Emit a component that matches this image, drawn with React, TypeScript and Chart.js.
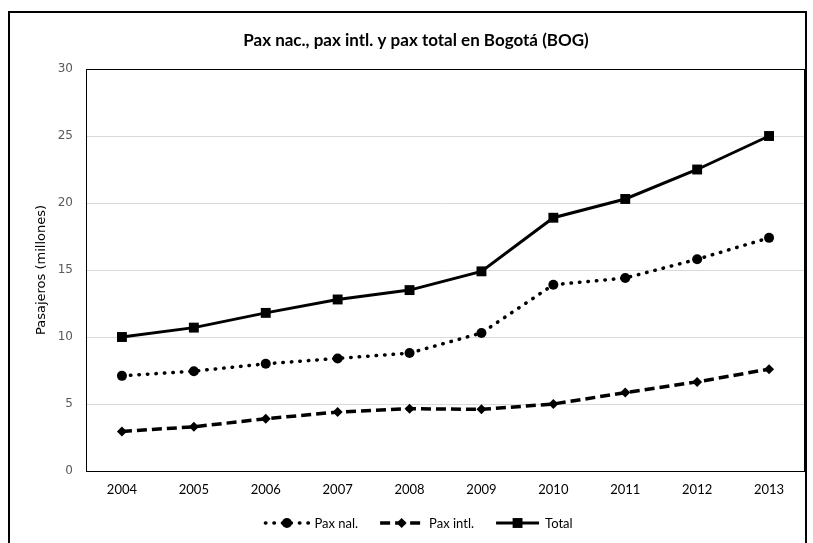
import React, { useEffect, useRef } from "react";
import { Chart, registerables } from "chart.js";

Chart.register(...registerables);

const TITLE = "Pax nac., pax intl. y pax total en Bogotá (BOG)";
const Y_TITLE = "Pasajeros (millones)";
const YEARS = ["2004", "2005", "2006", "2007", "2008", "2009", "2010", "2011", "2012", "2013"];
const PAX_NAL = [7.1, 7.45, 8.0, 8.4, 8.8, 10.3, 13.9, 14.4, 15.8, 17.4];
const PAX_INTL = [2.95, 3.3, 3.9, 4.4, 4.65, 4.6, 5.0, 5.85, 6.65, 7.6];
const TOTAL = [10.0, 10.7, 11.8, 12.8, 13.5, 14.9, 18.9, 20.3, 22.5, 25.0];
const SERIES_LABELS = ["Pax nal.", "Pax intl.", "Total"];
const Y_MIN = 0;
const Y_MAX = 30;
const Y_STEP = 5;

const NARROW = 'Lato, "DejaVu Sans Condensed", sans-serif';
const WIDE = '"DejaVu Sans", Verdana, sans-serif';

function drawMarker(ctx: CanvasRenderingContext2D, style: string, x: number, y: number, r: number) {
  ctx.beginPath();
  if (style === "circle") {
    ctx.arc(x, y, r, 0, Math.PI * 2);
  } else if (style === "rectRot") {
    ctx.moveTo(x - r, y);
    ctx.lineTo(x, y - r);
    ctx.lineTo(x + r, y);
    ctx.lineTo(x, y + r);
    ctx.closePath();
  } else {
    const s = Math.SQRT1_2 * r;
    ctx.rect(x - s, y - s, 2 * s, 2 * s);
  }
  ctx.fillStyle = "#000";
  ctx.fill();
}

const decorPlugin = {
  id: "decor",
  afterDraw(chart: any) {
    const ctx: CanvasRenderingContext2D = chart.ctx;
    const { left, right, top, bottom } = chart.chartArea;
    ctx.save();
    // plot border
    ctx.strokeStyle = "#000";
    ctx.lineWidth = 1;
    ctx.strokeRect(left + 0.5, top + 0.5, right - left - 1, bottom - top);
    // outer frame
    ctx.lineWidth = 2;
    ctx.beginPath();
    ctx.moveTo(9, 543);
    ctx.lineTo(9, 12);
    ctx.lineTo(806, 12);
    ctx.lineTo(806, 543);
    ctx.stroke();
    // title
    ctx.fillStyle = "#000";
    ctx.font = 'bold 17px ' + NARROW;
    ctx.textAlign = "center";
    ctx.textBaseline = "middle";
    ctx.fillText(TITLE, 416, 41);
    // legend
    ctx.font = '13px ' + NARROW;
    ctx.textAlign = "left";
    const sampleW = 43;
    const gapText = 6;
    const gapItem = 22;
    const ds = chart.data.datasets;
    const widths = ds.map((d: any) => ctx.measureText(d.label).width);
    const total = widths.reduce((a: number, b: number) => a + b, 0) + ds.length * (sampleW + gapText) + (ds.length - 1) * gapItem;
    let x = 419 - total / 2;
    const y = 523;
    ds.forEach((d: any, i: number) => {
      ctx.save();
      ctx.strokeStyle = "#000";
      ctx.lineWidth = d.borderWidth;
      ctx.lineCap = d.borderCapStyle || "butt";
      ctx.setLineDash(d.borderDash || []);
      ctx.beginPath();
      ctx.moveTo(x, y);
      ctx.lineTo(x + sampleW, y);
      ctx.stroke();
      ctx.restore();
      drawMarker(ctx, d.pointStyle, x + sampleW / 2, y, d.pointRadius);
      ctx.fillStyle = "#000";
      ctx.fillText(d.label, x + sampleW + gapText, y + 1);
      x += sampleW + gapText + widths[i] + gapItem;
    });
    ctx.restore();
  },
};

export default function App() {
  const ref = useRef<HTMLCanvasElement>(null);
  useEffect(() => {
    document.body.style.margin = "0";
    document.body.style.overflow = "hidden";
    const chart = new Chart(ref.current!, {
      type: "line",
      data: {
        labels: YEARS,
        datasets: [
          {
            label: SERIES_LABELS[0],
            data: PAX_NAL,
            borderColor: "#000",
            backgroundColor: "#000",
            borderWidth: 3.5,
            borderDash: [0.5, 8],
            borderCapStyle: "round",
            pointStyle: "circle",
            pointRadius: 5,
            pointBackgroundColor: "#000",
            pointBorderColor: "#000",
            pointBorderWidth: 0,
            tension: 0,
          },
          {
            label: SERIES_LABELS[1],
            data: PAX_INTL,
            borderColor: "#000",
            backgroundColor: "#000",
            borderWidth: 3.5,
            borderDash: [10, 5],
            borderCapStyle: "butt",
            pointStyle: "rectRot",
            pointRadius: 5,
            pointBackgroundColor: "#000",
            pointBorderColor: "#000",
            pointBorderWidth: 0,
            tension: 0,
          },
          {
            label: SERIES_LABELS[2],
            data: TOTAL,
            borderColor: "#000",
            backgroundColor: "#000",
            borderWidth: 3,
            pointStyle: "rect",
            pointRadius: 7,
            pointBackgroundColor: "#000",
            pointBorderColor: "#000",
            pointBorderWidth: 0,
            tension: 0,
          },
        ],
      },
      options: {
        responsive: false,
        animation: false,
        devicePixelRatio: 1,
        layout: { padding: { left: 8, right: 8, top: 69, bottom: 0 } },
        plugins: {
          legend: { display: false },
          title: { display: false },
          tooltip: { enabled: false },
        },
        scales: {
          x: {
            offset: true,
            grid: { display: false, drawTicks: false },
            border: { display: false },
            ticks: {
              padding: 11,
              color: "#000",
              font: { family: NARROW, size: 13 },
              maxRotation: 0,
              autoSkip: false,
            },
            afterFit: (s: any) => {
              s.height = 72;
            },
          },
          y: {
            min: Y_MIN,
            max: Y_MAX,
            ticks: {
              stepSize: Y_STEP,
              padding: 13,
              color: "#595959",
              font: { family: WIDE, size: 12 },
            },
            grid: { color: "#d9d9d9", drawTicks: false },
            border: { display: false },
            title: {
              display: true,
              text: Y_TITLE,
              color: "#000",
              font: { family: WIDE, size: 13 },
              padding: { top: 26, bottom: 0 },
            },
            afterFit: (s: any) => {
              s.width = 78;
            },
          },
        },
      },
      plugins: [decorPlugin],
    });
    return () => chart.destroy();
  }, []);
  return (
    <div style={{ position: "fixed", left: 0, top: 0, width: 813, height: 543, background: "#fff" }}>
      <canvas ref={ref} width={813} height={543} />
    </div>
  );
}
